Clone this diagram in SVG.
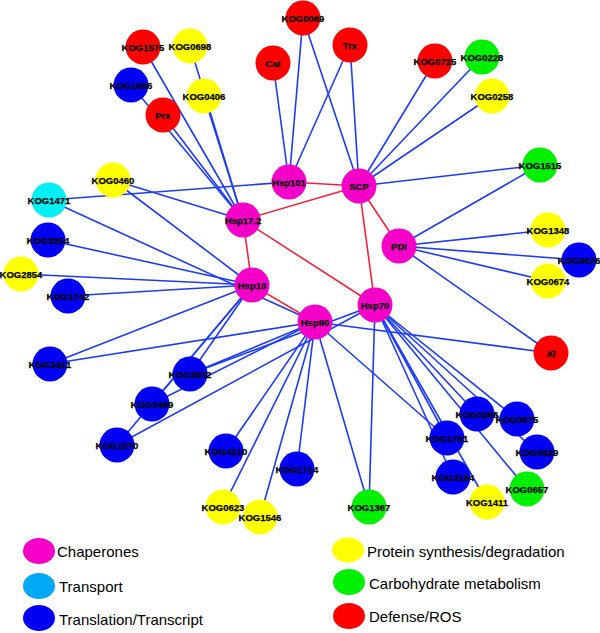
<svg xmlns="http://www.w3.org/2000/svg" width="600" height="633" viewBox="0 0 600 633">
<style>
.b{stroke:#1c3cf5;stroke-width:1.6;fill:none}
.r{stroke:#f5203a;stroke-width:1.6;fill:none}
.ch{fill:#f500c8}.tr{fill:#00f0f5}.bl{fill:#0000f5}.ye{fill:#ffff00}.gr{fill:#00f000}.re{fill:#ff0000}
.n text{font-family:"Liberation Sans",Arial,sans-serif;font-weight:bold;font-size:9.5px;text-anchor:middle;dominant-baseline:central;fill:#000;stroke:#000;stroke-width:0.25}
.lg{font-family:"Liberation Sans",Arial,sans-serif;font-size:15px;fill:#000}
</style>
<rect width="600" height="633" fill="#fff"/>
<g id="edges">
<line class="r" x1="289" y1="182" x2="359" y2="186"/>
<line class="r" x1="243" y1="220" x2="359" y2="186"/>
<line class="r" x1="243" y1="220" x2="252" y2="285"/>
<line class="r" x1="243" y1="220" x2="375" y2="305"/>
<line class="r" x1="359" y1="186" x2="399" y2="246"/>
<line class="r" x1="359" y1="186" x2="375" y2="305"/>
<line class="r" x1="252" y1="285" x2="315" y2="322"/>
<line class="b" x1="273" y1="63" x2="289" y2="182"/>
<line class="b" x1="303" y1="18" x2="289" y2="182"/>
<line class="b" x1="350" y1="45" x2="289" y2="182"/>
<line class="b" x1="49" y1="200" x2="289" y2="182"/>
<line class="b" x1="303" y1="18" x2="359" y2="186"/>
<line class="b" x1="350" y1="45" x2="359" y2="186"/>
<line class="b" x1="435" y1="61" x2="359" y2="186"/>
<line class="b" x1="482" y1="57" x2="359" y2="186"/>
<line class="b" x1="492" y1="96" x2="359" y2="186"/>
<line class="b" x1="540" y1="165" x2="359" y2="186"/>
<line class="b" x1="143" y1="47" x2="243" y2="220"/>
<line class="b" x1="190" y1="46" x2="243" y2="220"/>
<line class="b" x1="204" y1="96" x2="243" y2="220"/>
<line class="b" x1="163" y1="115" x2="243" y2="220"/>
<line class="b" x1="131" y1="85" x2="243" y2="220"/>
<line class="b" x1="113" y1="180" x2="243" y2="220"/>
<line class="b" x1="540" y1="165" x2="399" y2="246"/>
<line class="b" x1="548" y1="230" x2="399" y2="246"/>
<line class="b" x1="579" y1="260" x2="399" y2="246"/>
<line class="b" x1="548" y1="281" x2="399" y2="246"/>
<line class="b" x1="551" y1="353" x2="399" y2="246"/>
<line class="b" x1="113" y1="180" x2="252" y2="285"/>
<line class="b" x1="48" y1="240" x2="252" y2="285"/>
<line class="b" x1="21" y1="274" x2="252" y2="285"/>
<line class="b" x1="68" y1="296" x2="252" y2="285"/>
<line class="b" x1="50" y1="364" x2="252" y2="285"/>
<line class="b" x1="190" y1="374" x2="252" y2="285"/>
<line class="b" x1="152" y1="404" x2="252" y2="285"/>
<line class="b" x1="117" y1="445" x2="252" y2="285"/>
<line class="b" x1="49" y1="200" x2="315" y2="322"/>
<line class="b" x1="50" y1="364" x2="315" y2="322"/>
<line class="b" x1="190" y1="374" x2="315" y2="322"/>
<line class="b" x1="152" y1="404" x2="315" y2="322"/>
<line class="b" x1="226" y1="451" x2="315" y2="322"/>
<line class="b" x1="223" y1="507" x2="315" y2="322"/>
<line class="b" x1="260" y1="517" x2="315" y2="322"/>
<line class="b" x1="297" y1="469" x2="315" y2="322"/>
<line class="b" x1="369" y1="507" x2="315" y2="322"/>
<line class="b" x1="551" y1="353" x2="315" y2="322"/>
<line class="b" x1="190" y1="374" x2="375" y2="305"/>
<line class="b" x1="117" y1="445" x2="375" y2="305"/>
<line class="b" x1="369" y1="507" x2="375" y2="305"/>
<line class="b" x1="447" y1="438" x2="375" y2="305"/>
<line class="b" x1="447" y1="438" x2="315" y2="322"/>
<line class="b" x1="477" y1="414" x2="375" y2="305"/>
<line class="b" x1="517" y1="419" x2="375" y2="305"/>
<line class="b" x1="453" y1="477" x2="375" y2="305"/>
<line class="b" x1="487" y1="502" x2="375" y2="305"/>
<line class="b" x1="527" y1="489" x2="375" y2="305"/>
<line class="b" x1="537" y1="452" x2="375" y2="305"/>
</g>
<g id="KOG1575" class="n"><circle class="re" cx="143" cy="47" r="17.5"/><text x="143" y="47">KOG1575</text></g>
<g id="KOG0698" class="n"><circle class="ye" cx="190" cy="46" r="17.5"/><text x="190" y="46">KOG0698</text></g>
<g id="KOG1696" class="n"><circle class="bl" cx="131" cy="85" r="17.5"/><text x="131" y="85">KOG1696</text></g>
<g id="KOG0406" class="n"><circle class="ye" cx="204" cy="96" r="17.5"/><text x="204" y="96">KOG0406</text></g>
<g id="Prx" class="n"><circle class="re" cx="163" cy="115" r="17.5"/><text x="163" y="115">Prx</text></g>
<g id="Cat" class="n"><circle class="re" cx="273" cy="63" r="17.5"/><text x="273" y="63">Cat</text></g>
<g id="KOG0069" class="n"><circle class="re" cx="303" cy="18" r="17.5"/><text x="303" y="18">KOG0069</text></g>
<g id="Trx" class="n"><circle class="re" cx="350" cy="45" r="17.5"/><text x="350" y="45">Trx</text></g>
<g id="KOG0725" class="n"><circle class="re" cx="435" cy="61" r="17.5"/><text x="435" y="61">KOG0725</text></g>
<g id="KOG0228" class="n"><circle class="gr" cx="482" cy="57" r="17.5"/><text x="482" y="57">KOG0228</text></g>
<g id="KOG0258" class="n"><circle class="ye" cx="492" cy="96" r="17.5"/><text x="492" y="96">KOG0258</text></g>
<g id="KOG1515" class="n"><circle class="gr" cx="540" cy="165" r="17.5"/><text x="540" y="165">KOG1515</text></g>
<g id="Hsp101" class="n"><circle class="ch" cx="289" cy="182" r="17.5"/><text x="289" y="182">Hsp101</text></g>
<g id="SCP" class="n"><circle class="ch" cx="359" cy="186" r="17.5"/><text x="359" y="186">SCP</text></g>
<g id="Hsp17.2" class="n"><circle class="ch" cx="243" cy="220" r="17.5"/><text x="243" y="220">Hsp17.2</text></g>
<g id="PDI" class="n"><circle class="ch" cx="399" cy="246" r="17.5"/><text x="399" y="246">PDI</text></g>
<g id="Hsp10" class="n"><circle class="ch" cx="252" cy="285" r="17.5"/><text x="252" y="285">Hsp10</text></g>
<g id="Hsp70" class="n"><circle class="ch" cx="375" cy="305" r="17.5"/><text x="375" y="305">Hsp70</text></g>
<g id="Hsp90" class="n"><circle class="ch" cx="315" cy="322" r="17.5"/><text x="315" y="322">Hsp90</text></g>
<g id="KOG0460" class="n"><circle class="ye" cx="113" cy="180" r="17.5"/><text x="113" y="180">KOG0460</text></g>
<g id="KOG1471" class="n"><circle class="tr" cx="49" cy="200" r="17.5"/><text x="49" y="200">KOG1471</text></g>
<g id="KOG3204" class="n"><circle class="bl" cx="48" cy="240" r="17.5"/><text x="48" y="240">KOG3204</text></g>
<g id="KOG2854" class="n"><circle class="ye" cx="21" cy="274" r="17.5"/><text x="21" y="274">KOG2854</text></g>
<g id="KOG1742" class="n"><circle class="bl" cx="68" cy="296" r="17.5"/><text x="68" y="296">KOG1742</text></g>
<g id="KOG1348" class="n"><circle class="ye" cx="548" cy="230" r="17.5"/><text x="548" y="230">KOG1348</text></g>
<g id="KOG0676" class="n"><circle class="bl" cx="579" cy="260" r="17.5"/><text x="579" y="260">KOG0676</text></g>
<g id="KOG0674" class="n"><circle class="ye" cx="548" cy="281" r="17.5"/><text x="548" y="281">KOG0674</text></g>
<g id="Xl" class="n"><circle class="re" cx="551" cy="353" r="17.5"/><text x="551" y="353">Xl</text></g>
<g id="KOG3421" class="n"><circle class="bl" cx="50" cy="364" r="17.5"/><text x="50" y="364">KOG3421</text></g>
<g id="KOG3502" class="n"><circle class="bl" cx="190" cy="374" r="17.5"/><text x="190" y="374">KOG3502</text></g>
<g id="KOG3499" class="n"><circle class="bl" cx="152" cy="404" r="17.5"/><text x="152" y="404">KOG3499</text></g>
<g id="KOG1570" class="n"><circle class="bl" cx="117" cy="445" r="17.5"/><text x="117" y="445">KOG1570</text></g>
<g id="KOG4210" class="n"><circle class="bl" cx="226" cy="451" r="17.5"/><text x="226" y="451">KOG4210</text></g>
<g id="KOG1714" class="n"><circle class="bl" cx="297" cy="469" r="17.5"/><text x="297" y="469">KOG1714</text></g>
<g id="KOG0623" class="n"><circle class="ye" cx="223" cy="507" r="17.5"/><text x="223" y="507">KOG0623</text></g>
<g id="KOG1546" class="n"><circle class="ye" cx="260" cy="517" r="17.5"/><text x="260" y="517">KOG1546</text></g>
<g id="KOG1367" class="n"><circle class="gr" cx="369" cy="507" r="17.5"/><text x="369" y="507">KOG1367</text></g>
<g id="KOG0266" class="n"><circle class="bl" cx="477" cy="414" r="17.5"/><text x="477" y="414">KOG0266</text></g>
<g id="KOG0875" class="n"><circle class="bl" cx="517" cy="419" r="17.5"/><text x="517" y="419">KOG0875</text></g>
<g id="KOG1751" class="n"><circle class="bl" cx="447" cy="438" r="17.5"/><text x="447" y="438">KOG1751</text></g>
<g id="KOG0829" class="n"><circle class="bl" cx="537" cy="452" r="17.5"/><text x="537" y="452">KOG0829</text></g>
<g id="KOG3184" class="n"><circle class="bl" cx="453" cy="477" r="17.5"/><text x="453" y="477">KOG3184</text></g>
<g id="KOG0657" class="n"><circle class="gr" cx="527" cy="489" r="17.5"/><text x="527" y="489">KOG0657</text></g>
<g id="KOG1411" class="n"><circle class="ye" cx="487" cy="502" r="17.5"/><text x="487" y="502">KOG1411</text></g>
<g id="legend">
<ellipse class="ch" cx="39" cy="551" rx="16" ry="13"/>
<text class="lg" x="57" y="557">Chaperones</text>
<ellipse fill="#00a8f5" cx="39" cy="586" rx="16" ry="13"/>
<text class="lg" x="59" y="592">Transport</text>
<ellipse class="bl" cx="39" cy="618" rx="16" ry="13"/>
<text class="lg" x="59" y="625">Translation/Transcript</text>
<ellipse class="ye" cx="348" cy="550" rx="16" ry="12.5"/>
<text class="lg" x="367" y="557">Protein synthesis/degradation</text>
<ellipse class="gr" cx="349" cy="582" rx="16" ry="13"/>
<text class="lg" x="369" y="589">Carbohydrate metabolism</text>
<ellipse class="re" cx="349" cy="616" rx="16" ry="13"/>
<text class="lg" x="369" y="622">Defense/ROS</text>
</g>
</svg>
